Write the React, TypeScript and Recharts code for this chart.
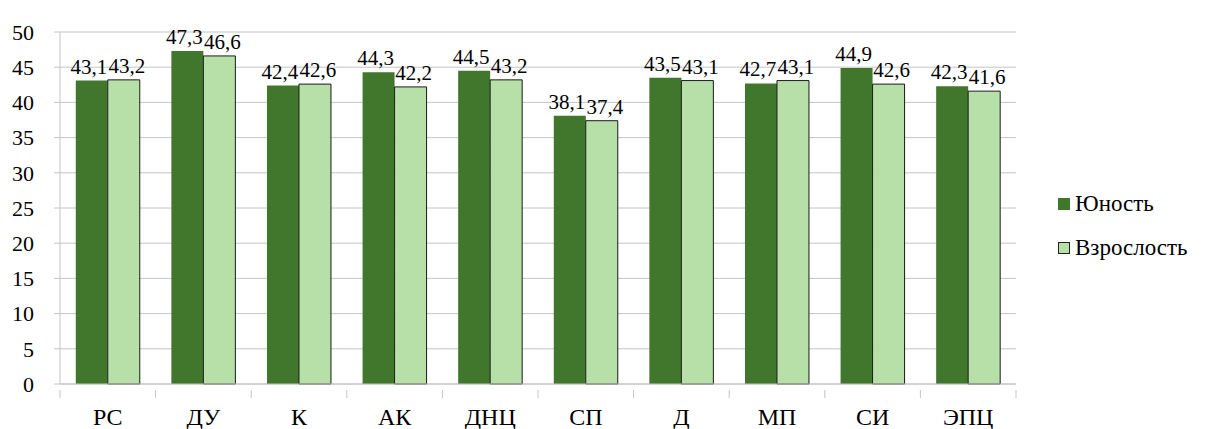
import { BarChart, Bar, XAxis, YAxis, CartesianGrid, LabelList } from 'recharts';

// Шкалы и значения
const categories = ['РС', 'ДУ', 'К', 'АК', 'ДНЦ', 'СП', 'Д', 'МП', 'СИ', 'ЭПЦ'];
const youth = [43.1, 47.3, 42.4, 44.3, 44.5, 38.1, 43.5, 42.7, 44.9, 42.3];
const adult = [43.2, 46.6, 42.6, 42.2, 43.2, 37.4, 43.1, 43.1, 42.6, 41.6];
const yTicks = [0, 5, 10, 15, 20, 25, 30, 35, 40, 45, 50];
const seriesNames = ['Юность', 'Взрослость'];

const data = categories.map((name, i) => ({ name, youth: youth[i], adult: adult[i] }));

const FONT = '"Liberation Serif", "Times New Roman", "DejaVu Serif", serif';
const DARK = '#41772c';
const LIGHT = '#b7e0a8';
const GRID = '#c4c4c4';

const fmt = (v: any) => String(v).replace('.', ',');

// category tick: label plus separator lines at band edges (like Excel)
const CatTick = (props: any) => {
  const { x, y, payload, index, visibleTicksCount } = props;
  const half = payload && payload.offset ? payload.offset : 47.8;
  const top = y - 14;
  return (
    <g>
      <line x1={x - half} x2={x - half} y1={top} y2={top + 8} stroke={GRID} />
      {index === visibleTicksCount - 1 && (
        <line x1={x + half} x2={x + half} y1={top} y2={top + 8} stroke={GRID} />
      )}
      <text x={x} y={y + 4} dy="0.71em" textAnchor="middle" fill="#000" fontSize={24} fontFamily={FONT}>
        {payload.value}
      </text>
    </g>
  );
};

export default function App() {
  return (
    <div style={{ position: 'absolute', left: 0, top: 0, width: 1208, height: 429, background: '#fff' }}>
      <BarChart
        width={1208}
        height={429}
        data={data}
        margin={{ top: 32, right: 192, bottom: 5, left: 10 }}
        barCategoryGap="16.5%"
        barGap={0}
      >
        <CartesianGrid vertical={false} stroke={GRID} />
        <XAxis
          dataKey="name"
          height={40}
          tick={<CatTick />}
          tickLine={false}
          tickMargin={14}
          axisLine={{ stroke: GRID }}
          interval={0}
        />
        <YAxis
          width={50}
          domain={[0, 50]}
          ticks={yTicks}
          interval={0}
          tickSize={6}
          tickMargin={20}
          tickLine={{ stroke: GRID }}
          axisLine={{ stroke: GRID }}
          tick={{ fill: '#000', fontSize: 22, fontFamily: FONT }}
        />
        <YAxis
          yAxisId="r"
          orientation="right"
          width={0}
          tick={false}
          tickLine={false}
          axisLine={{ stroke: GRID }}
        />
        <Bar dataKey="youth" name={seriesNames[0]} fill={DARK} isAnimationActive={false}>
          <LabelList dataKey="youth" position="top" offset={7} dx={-3} formatter={fmt} fill="#000" fontSize={21} fontFamily={FONT} />
        </Bar>
        <Bar dataKey="adult" name={seriesNames[1]} fill={LIGHT} stroke="#1a1a1a" strokeWidth={1} isAnimationActive={false}>
          <LabelList dataKey="adult" position="top" offset={7} dx={3} formatter={fmt} fill="#000" fontSize={21} fontFamily={FONT} stroke="none" />
        </Bar>
      </BarChart>
      <div style={{ position: 'absolute', left: 1058, top: 182, fontFamily: FONT, fontSize: 23, color: '#000' }}>
        {seriesNames.map((n, i) => (
          <div key={n} style={{ display: 'flex', alignItems: 'center', height: 44 }}>
            <span
              style={{
                display: 'inline-block',
                width: 12,
                height: 12,
                background: i === 0 ? DARK : LIGHT,
                border: i === 1 ? '1px solid #222' : 'none',
                boxSizing: 'border-box',
                marginRight: 5,
              }}
            />
            <span>{n}</span>
          </div>
        ))}
      </div>
    </div>
  );
}
